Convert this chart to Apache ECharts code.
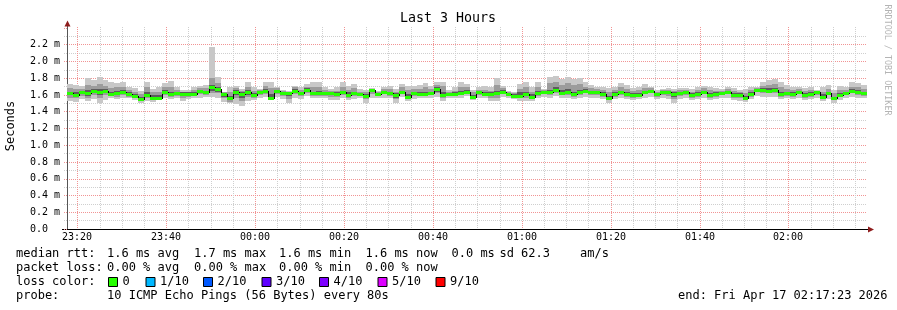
<!DOCTYPE html>
<html><head><meta charset="utf-8">
<script src="https://cdn.jsdelivr.net/npm/echarts@6/dist/echarts.min.js"></script>
<style>html,body{margin:0;padding:0;background:#fff}#c{width:897px;height:310px}</style>
</head><body><div id="c"></div>
<script>
// ---------------- data ----------------
const chartTitle = 'Last 3 Hours';
const yAxisTitle = 'Seconds';
const watermark = 'RRDTOOL / TOBI OETIKER';
const majorTimeLabels = ['23:20','23:40','00:00','00:20','00:40','01:00','01:20','01:40','02:00'];
const startTime = '23:17:41';
const stepSeconds = 80;
const yMax = 2.4;

// median rtt per 80 s step (ms)
const median = [
 1.62,1.60,1.63,1.62,1.65,1.64,1.65,1.61,1.62,1.64,
 1.61,1.59,1.55,1.60,1.57,1.57,1.64,1.61,1.62,1.61,
 1.61,1.61,1.65,1.63,1.69,1.67,1.61,1.56,1.64,1.61,
 1.63,1.60,1.64,1.65,1.57,1.65,1.62,1.62,1.65,1.62,
 1.66,1.62,1.62,1.62,1.62,1.61,1.63,1.60,1.62,1.61,
 1.59,1.66,1.61,1.64,1.62,1.60,1.63,1.58,1.62,1.61,
 1.61,1.62,1.67,1.60,1.61,1.61,1.62,1.64,1.58,1.63,
 1.61,1.61,1.62,1.64,1.61,1.59,1.59,1.61,1.58,1.62,
 1.64,1.63,1.66,1.62,1.63,1.61,1.63,1.65,1.63,1.63,
 1.61,1.56,1.61,1.63,1.61,1.60,1.60,1.63,1.65,1.61,
 1.63,1.63,1.61,1.62,1.63,1.60,1.61,1.63,1.60,1.61,
 1.62,1.63,1.60,1.60,1.57,1.61,1.66,1.66,1.65,1.66,
 1.61,1.62,1.61,1.63,1.60,1.61,1.63,1.58,1.62,1.56,
 1.60,1.62,1.65,1.63,1.62];
// slowest ping per step
const pingMax = [
 1.73,1.72,1.71,1.80,1.78,1.82,1.78,1.75,1.74,1.76,
 1.69,1.68,1.65,1.76,1.67,1.69,1.74,1.77,1.69,1.66,
 1.66,1.69,1.71,1.72,2.17,1.82,1.64,1.69,1.71,1.67,
 1.76,1.69,1.67,1.75,1.75,1.69,1.66,1.65,1.71,1.69,
 1.73,1.75,1.75,1.69,1.67,1.69,1.75,1.71,1.73,1.67,
 1.66,1.68,1.65,1.69,1.71,1.67,1.73,1.71,1.71,1.72,
 1.74,1.71,1.76,1.76,1.66,1.69,1.75,1.73,1.66,1.69,
 1.71,1.69,1.80,1.71,1.65,1.63,1.73,1.75,1.69,1.75,
 1.67,1.81,1.83,1.79,1.82,1.79,1.80,1.75,1.72,1.70,
 1.69,1.68,1.70,1.74,1.72,1.68,1.70,1.73,1.70,1.66,
 1.67,1.68,1.67,1.68,1.68,1.67,1.70,1.71,1.69,1.68,
 1.67,1.70,1.68,1.66,1.67,1.70,1.69,1.75,1.78,1.79,
 1.76,1.72,1.70,1.69,1.68,1.70,1.66,1.69,1.72,1.66,
 1.71,1.70,1.75,1.74,1.72];
// fastest ping per step
const pingMin = [
 1.53,1.52,1.55,1.53,1.55,1.50,1.54,1.57,1.55,1.57,
 1.56,1.54,1.51,1.53,1.52,1.54,1.56,1.55,1.57,1.53,
 1.55,1.57,1.57,1.58,1.58,1.57,1.52,1.50,1.49,1.47,
 1.53,1.54,1.56,1.58,1.54,1.58,1.55,1.50,1.57,1.55,
 1.59,1.56,1.56,1.56,1.54,1.54,1.56,1.54,1.55,1.56,
 1.51,1.57,1.56,1.57,1.56,1.51,1.58,1.53,1.55,1.56,
 1.56,1.57,1.58,1.53,1.56,1.57,1.56,1.59,1.54,1.56,
 1.56,1.53,1.53,1.58,1.56,1.55,1.53,1.53,1.53,1.56,
 1.58,1.57,1.59,1.56,1.57,1.55,1.56,1.58,1.57,1.56,
 1.55,1.51,1.55,1.56,1.55,1.54,1.55,1.57,1.58,1.55,
 1.56,1.55,1.51,1.55,1.56,1.54,1.55,1.57,1.54,1.55,
 1.56,1.57,1.54,1.53,1.52,1.55,1.59,1.58,1.58,1.58,
 1.55,1.56,1.55,1.57,1.54,1.55,1.57,1.53,1.55,1.51,
 1.54,1.56,1.58,1.57,1.56];
// middle smoke band
const midHi = [
 1.68,1.67,1.67,1.72,1.71,1.73,1.71,1.68,1.69,1.70,
 1.66,1.64,1.61,1.69,1.63,1.64,1.70,1.70,1.66,1.64,
 1.64,1.66,1.68,1.68,1.80,1.74,1.63,1.63,1.68,1.65,
 1.70,1.65,1.66,1.71,1.68,1.68,1.65,1.64,1.69,1.66,
 1.70,1.69,1.69,1.66,1.65,1.65,1.70,1.66,1.68,1.64,
 1.63,1.67,1.63,1.67,1.67,1.64,1.69,1.66,1.67,1.67,
 1.69,1.67,1.72,1.71,1.64,1.65,1.70,1.69,1.63,1.66,
 1.66,1.65,1.72,1.68,1.63,1.62,1.67,1.69,1.64,1.69,
 1.66,1.74,1.76,1.72,1.74,1.72,1.73,1.70,1.68,1.67,
 1.66,1.63,1.66,1.69,1.67,1.65,1.66,1.68,1.68,1.64,
 1.66,1.66,1.65,1.66,1.66,1.64,1.66,1.68,1.66,1.65,
 1.65,1.67,1.65,1.64,1.62,1.66,1.68,1.71,1.72,1.73,
 1.70,1.67,1.66,1.67,1.65,1.66,1.65,1.64,1.67,1.62,
 1.66,1.66,1.70,1.69,1.67];
const midLo = [
 1.57,1.56,1.59,1.57,1.60,1.57,1.60,1.59,1.58,1.60,
 1.58,1.56,1.53,1.56,1.54,1.55,1.60,1.58,1.59,1.57,
 1.58,1.59,1.61,1.60,1.62,1.62,1.56,1.52,1.56,1.53,
 1.58,1.57,1.60,1.61,1.56,1.61,1.59,1.55,1.61,1.59,
 1.62,1.59,1.59,1.59,1.58,1.58,1.60,1.57,1.59,1.59,
 1.55,1.61,1.59,1.61,1.59,1.55,1.61,1.56,1.59,1.59,
 1.59,1.60,1.62,1.57,1.59,1.59,1.60,1.62,1.56,1.60,
 1.59,1.57,1.57,1.61,1.59,1.57,1.56,1.57,1.56,1.59,
 1.61,1.60,1.62,1.60,1.60,1.58,1.60,1.62,1.60,1.60,
 1.58,1.54,1.58,1.60,1.58,1.57,1.58,1.61,1.62,1.58,
 1.60,1.59,1.55,1.59,1.60,1.57,1.58,1.61,1.57,1.58,
 1.60,1.61,1.57,1.57,1.55,1.58,1.63,1.62,1.62,1.62,
 1.58,1.59,1.58,1.61,1.57,1.58,1.60,1.56,1.60,1.54,
 1.58,1.60,1.62,1.60,1.59];
// inner (dark) smoke band
const innerHi = [
 1.64,1.63,1.65,1.66,1.67,1.67,1.67,1.64,1.65,1.66,
 1.63,1.61,1.58,1.64,1.60,1.60,1.66,1.64,1.64,1.63,
 1.63,1.63,1.66,1.65,1.72,1.69,1.62,1.59,1.66,1.63,
 1.66,1.62,1.65,1.67,1.61,1.66,1.63,1.63,1.67,1.64,
 1.68,1.64,1.65,1.64,1.63,1.63,1.65,1.63,1.64,1.62,
 1.61,1.66,1.62,1.65,1.64,1.62,1.65,1.61,1.64,1.63,
 1.64,1.64,1.69,1.64,1.62,1.63,1.65,1.66,1.60,1.64,
 1.63,1.63,1.65,1.66,1.62,1.61,1.63,1.64,1.61,1.65,
 1.65,1.66,1.69,1.66,1.67,1.64,1.66,1.67,1.65,1.64,
 1.63,1.59,1.63,1.65,1.63,1.62,1.62,1.65,1.66,1.62,
 1.64,1.64,1.63,1.63,1.64,1.62,1.63,1.65,1.62,1.63,
 1.63,1.65,1.62,1.62,1.59,1.63,1.67,1.68,1.68,1.68,
 1.64,1.64,1.63,1.65,1.62,1.63,1.64,1.61,1.64,1.58,
 1.62,1.63,1.67,1.66,1.64];
const innerLo = [
 1.60,1.58,1.61,1.59,1.62,1.60,1.62,1.60,1.60,1.62,
 1.59,1.57,1.54,1.58,1.55,1.56,1.62,1.59,1.60,1.59,
 1.59,1.60,1.63,1.61,1.65,1.64,1.58,1.54,1.60,1.57,
 1.60,1.58,1.62,1.63,1.56,1.63,1.60,1.59,1.63,1.60,
 1.64,1.60,1.60,1.60,1.60,1.59,1.61,1.58,1.60,1.60,
 1.57,1.63,1.60,1.62,1.60,1.57,1.62,1.56,1.60,1.60,
 1.60,1.61,1.64,1.58,1.60,1.60,1.61,1.63,1.57,1.61,
 1.60,1.59,1.60,1.62,1.60,1.58,1.58,1.59,1.57,1.60,
 1.62,1.61,1.64,1.61,1.61,1.59,1.61,1.63,1.61,1.61,
 1.59,1.55,1.59,1.61,1.59,1.58,1.59,1.62,1.63,1.59,
 1.61,1.61,1.58,1.60,1.61,1.58,1.59,1.62,1.58,1.59,
 1.61,1.62,1.58,1.58,1.56,1.59,1.64,1.64,1.63,1.64,
 1.59,1.60,1.59,1.62,1.58,1.59,1.61,1.57,1.61,1.55,
 1.59,1.61,1.63,1.61,1.60];

// legend text
const statLabels = ['median rtt:', 'packet loss:', 'loss color:', 'probe:'];
const rttStats = ['1.6 ms avg', '1.7 ms max', '1.6 ms min', '1.6 ms now', '0.0 ms', 'sd', '62.3', 'am/s'];
const lossStats = ['0.00 % avg', '0.00 % max', '0.00 % min', '0.00 % now'];
const lossLabels = ['0', '1/10', '2/10', '3/10', '4/10', '5/10', '9/10'];
const lossColors = ['#26ff00', '#00b8ff', '#0059ff', '#5e00ff', '#7e00ff', '#dd00ff', '#ff0000'];
const probeText = '10 ICMP Echo Pings (56 Bytes) every 80s';
const endText = 'end: Fri Apr 17 02:17:23 2026';

// ---------------- build ----------------
function toMin(s) { const p = s.split(':').map(Number); let h = p[0]; if (h < 12) h += 24; return (h - 23) * 60 + p[1] + (p[2] || 0) / 60; }
const START = toMin(startTime);
const STEP = stepSeconds / 60;
const END = START + median.length * STEP;
const t0 = i => START + i * STEP;

const MONO = 'DejaVu Sans Mono';
const RED = '#f19494';
const GREY = '#cfcfcf';
const GRID_TOP = 28, GRID_H = 201, GRID_LEFT = 67, GRID_W = 800;
const AXIS_Y = GRID_TOP + GRID_H + 0.5;

const majorMins = majorTimeLabels.map(toMin);
const gridData = [], gridLabels = [];
for (let t = majorMins[0]; t < END; t += 5) {
  const k = majorMins.findIndex(m => Math.abs(m - t) < 1e-6);
  gridData.push([t, k >= 0 ? 1 : 0]);
  gridLabels.push(k >= 0 ? majorTimeLabels[k] : '');
}

function band(lo, hi, color, z) {
  return {
    type: 'custom', z, silent: true, clip: true,
    data: median.map((_, i) => [t0(i), lo[i], hi[i]]),
    encode: { x: 0, y: [1, 2] },
    renderItem(params, api) {
      const t = api.value(0);
      const a = api.coord([t, api.value(2)]), b = api.coord([t + STEP, api.value(1)]);
      const x0 = Math.round(a[0]), x1 = Math.round(b[0]), y0 = Math.round(a[1]), y1 = Math.round(b[1]);
      return { type: 'rect', shape: { x: x0, y: y0, width: x1 - x0, height: Math.max(1, y1 - y0) }, style: { fill: color } };
    }
  };
}

const series = [
  {
    type: 'custom', z: 1, silent: true, clip: false,
    data: gridData, encode: { x: 0, y: 1 },
    renderItem(params, api) {
      const t = api.value(0);
      const bot = api.coord([t, 0]), top = api.coord([t, yMax]);
      const x = Math.round(bot[0]) + 0.5;
      const major = api.value(1) === 1;
      const ch = [{ type: 'line', shape: { x1: x, y1: Math.round(top[1]) - 1, x2: x, y2: Math.round(bot[1]) },
        style: { stroke: major ? RED : GREY, lineWidth: 1, lineDash: [1, 1] } }];
      if (major) ch.push({ type: 'text', x: Math.round(bot[0]), y: Math.round(bot[1]) + 3,
        style: { text: gridLabels[params.dataIndex], font: '10px ' + MONO, fill: '#000', align: 'center', verticalAlign: 'top' } });
      return { type: 'group', children: ch };
    }
  },
  band(pingMin, pingMax, '#c8c8c8', 2),
  band(midLo, midHi, '#9c9c9c', 3),
  band(innerLo, innerHi, '#5c5c5c', 4),
  {
    type: 'custom', z: 5, silent: true, clip: true,
    data: median.map((v, i) => [t0(i), v, i > 0 ? median[i - 1] : v]),
    encode: { x: 0, y: [1, 2] },
    renderItem(params, api) {
      const t = api.value(0);
      const a = api.coord([t, api.value(1)]), b = api.coord([t, api.value(2)]);
      const x = Math.round(a[0]);
      const ya = Math.round(a[1]), yb = Math.round(b[1]);
      return { type: 'rect', shape: { x: x, y: Math.min(ya, yb), width: 1, height: Math.abs(ya - yb) + 1 }, style: { fill: '#000' } };
    }
  },
  {
    type: 'custom', z: 6, silent: true, clip: true,
    data: median.map((v, i) => [t0(i), v]),
    encode: { x: 0, y: 1 },
    renderItem(params, api) {
      const t = api.value(0);
      const a = api.coord([t, api.value(1)]), b = api.coord([t + STEP, api.value(1)]);
      const x0 = Math.round(a[0]), x1 = Math.round(b[0]), yc = Math.round(a[1]);
      return { type: 'rect', shape: { x: x0, y: yc - 1, width: x1 - x0, height: 3 }, style: { fill: lossColors[0] } };
    }
  }
];

// legend graphics
const g = [];
function txt(x, y, s, extra) {
  g.push(Object.assign({ type: 'text', x, y, silent: true,
    style: { text: s, font: '12px ' + MONO, fill: '#000', align: 'left', verticalAlign: 'middle' } }, extra || {}));
}
const rowY = [254, 268, 282, 296];
statLabels.forEach((s, i) => txt(16, rowY[i], s));
const rttX = [107, 194, 279, 365.5, 451.5, 499.5, 521, 580];
rttStats.forEach((s, i) => txt(rttX[i], rowY[0], s));
const lossX = [107, 194, 279, 365.5];
lossStats.forEach((s, i) => txt(lossX[i], rowY[1], s));
const swX = [108, 145.5, 203, 261.5, 319, 377.5, 435.5];
lossLabels.forEach((s, i) => {
  g.push({ type: 'rect', silent: true, shape: { x: swX[i] + 0.5, y: 277.5, width: 9, height: 9 },
    style: { fill: lossColors[i], stroke: '#000', lineWidth: 1 } });
  txt(swX[i] + 14.5, rowY[2], s);
});
txt(107, rowY[3], probeText);
txt(678, rowY[3], endText);

// title, axis title, watermark
g.push({ type: 'text', x: 448, y: 19, silent: true, style: { text: chartTitle, font: '13.3px ' + MONO, fill: '#000', align: 'center', verticalAlign: 'middle' } });
g.push({ type: 'text', x: 11, y: 126, rotation: Math.PI / 2, silent: true, style: { text: yAxisTitle, font: '12px ' + MONO, fill: '#000', align: 'center', verticalAlign: 'middle' } });
g.push({ type: 'text', x: 887.5, y: 60, rotation: -Math.PI / 2, silent: true, style: { text: watermark, font: '8.4px ' + MONO, fill: '#b4b4b4', align: 'center', verticalAlign: 'middle' } });
// axis extensions and arrows
g.push({ type: 'line', silent: true, shape: { x1: 62, y1: AXIS_Y, x2: 67, y2: AXIS_Y }, style: { stroke: '#000', lineWidth: 1 } });
g.push({ type: 'line', silent: true, shape: { x1: 867, y1: AXIS_Y, x2: 869, y2: AXIS_Y }, style: { stroke: '#000', lineWidth: 1 } });
g.push({ type: 'line', silent: true, shape: { x1: 67.5, y1: 23, x2: 67.5, y2: 29 }, style: { stroke: '#555', lineWidth: 1 } });
g.push({ type: 'polygon', silent: true, shape: { points: [[64.5, 26.5], [70.5, 26.5], [67.5, 20.5]] }, style: { fill: '#8f1d1d' } });
g.push({ type: 'polygon', silent: true, shape: { points: [[868, AXIS_Y - 3], [868, AXIS_Y + 3], [874, AXIS_Y]] }, style: { fill: '#8f1d1d' } });

const chart = echarts.init(document.getElementById('c'), null, { renderer: 'canvas' });
chart.setOption({
  animation: false,
  backgroundColor: '#fff',
  grid: { left: GRID_LEFT, top: GRID_TOP, width: GRID_W, height: GRID_H, containLabel: false },
  xAxis: {
    type: 'value', min: START, max: END,
    axisLine: { show: true, lineStyle: { color: '#000', width: 1 } },
    axisTick: { show: false }, axisLabel: { show: false }, splitLine: { show: false }
  },
  yAxis: {
    type: 'value', min: 0, max: yMax, interval: 0.2,
    axisLine: { show: true, lineStyle: { color: '#555', width: 1 } },
    axisTick: { show: true, length: 4, lineStyle: { color: RED, type: [1, 1] } },
    minorTick: { show: true, splitNumber: 2, length: 4, lineStyle: { color: GREY, type: [1, 1] } },
    splitLine: { show: true, showMinLine: false, showMaxLine: false, lineStyle: { color: RED, type: [1, 1], width: 1 } },
    minorSplitLine: { show: true, lineStyle: { color: GREY, type: [1, 1], width: 1 } },
    axisLabel: {
      margin: 37, align: 'left', fontFamily: MONO, fontSize: 10, color: '#000', showMaxLabel: false,
      padding: [2, 0, 0, 0],
      formatter: v => (Math.abs(v) < 1e-9 ? '0.0' : (Math.abs(v - yMax) < 1e-9 ? '' : v.toFixed(1) + ' m'))
    }
  },
  series,
  graphic: g
});
</script>
</body></html>
